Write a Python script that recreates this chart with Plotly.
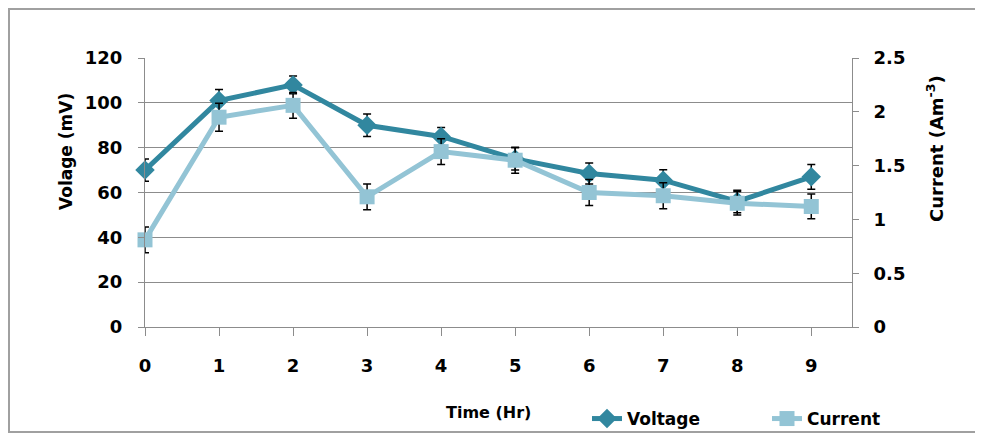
import plotly.graph_objects as go

time_hr = [0, 1, 2, 3, 4, 5, 6, 7, 8, 9]
voltage = [70, 101, 108, 90, 85, 75, 68.5, 65.5, 56, 67]
voltage_err = [5, 5, 4, 5, 4, 5, 4.7, 4.7, 5, 5.5]
current = [0.81, 1.95, 2.06, 1.21, 1.63, 1.55, 1.25, 1.22, 1.15, 1.12]
current_err = [0.12, 0.13, 0.12, 0.12, 0.12, 0.12, 0.12, 0.12, 0.11, 0.115]
left_ticks = [0, 20, 40, 60, 80, 100, 120]
right_ticks = [0, 0.5, 1, 1.5, 2, 2.5]
right_labels = ["0", "0.5", "1", "1.5", "2", "2.5"]

C_V = "#31879F"
C_I = "#93C4D5"
GRID = "#8C8C8C"
FONT = "DejaVu Sans"
OFF = 8  # page body margin
W, H = 983 - OFF, 437 - OFF
# plot area in page pixels: x 145..852, y 58..327
L, T = 145 - OFF, 58 - OFF
R = W - (852 - OFF)
B = H - (327 - OFF)
pw, ph = W - L - R, H - T - B

fig = go.Figure()
fig.add_trace(go.Scatter(
    x=time_hr, y=voltage, name="Voltage", mode="lines+markers",
    line=dict(color=C_V, width=5),
    marker=dict(symbol="diamond", size=15, color=C_V),
    error_y=dict(type="data", array=voltage_err, color="black", thickness=1.5, width=4),
    cliponaxis=False,
))
fig.add_trace(go.Scatter(
    x=time_hr, y=current, name="Current", mode="lines+markers", yaxis="y2",
    line=dict(color=C_I, width=5),
    marker=dict(symbol="square", size=15, color=C_I),
    error_y=dict(type="data", array=current_err, color="black", thickness=1.5, width=4),
    cliponaxis=False,
))

def px_x(p):
    # page pixel -> paper x
    return (p - OFF - L) / pw

def px_y(p):
    # page pixel -> paper y
    return (H - B - (p - OFF)) / ph

tickfont = dict(family=FONT, size=18, color="black", weight="bold")
fig.update_layout(
    width=W, height=H,
    margin=dict(l=L, r=R, t=T, b=B, autoexpand=False),
    paper_bgcolor="white", plot_bgcolor="white",
    font=dict(family=FONT, color="black"),
    xaxis=dict(
        range=[0, 9.55], tickvals=time_hr, ticktext=[str(t) for t in time_hr],
        showgrid=False, zeroline=False, showline=True, linecolor=GRID, linewidth=1,
        ticks="outside", ticklen=8, tickcolor=GRID, tickfont=tickfont, ticklabelstandoff=14,
    ),
    yaxis=dict(
        range=[0, 120], tickvals=left_ticks, showgrid=True, gridcolor=GRID, gridwidth=1,
        zeroline=False, showline=True, linecolor=GRID, linewidth=1,
        ticks="outside", ticklen=6, tickcolor=GRID, tickfont=tickfont, ticklabelstandoff=12,
    ),
    yaxis2=dict(
        range=[0, 2.5], tickvals=right_ticks, ticktext=right_labels, overlaying="y", side="right",
        showgrid=False, zeroline=False, showline=True, linecolor=GRID, linewidth=1,
        ticks="outside", ticklen=6, tickcolor=GRID, tickfont=tickfont, ticklabelstandoff=11,
    ),
    showlegend=True,
    legend=dict(
        orientation="h", x=px_x(587), y=px_y(419), yanchor="middle", xanchor="left",
        font=dict(family=FONT, size=17, color="black", weight="bold"),
        entrywidth=135, entrywidthmode="pixels", bgcolor="rgba(0,0,0,0)",
    ),
    annotations=[
        dict(text="<b>Time (Hr)</b>", x=px_x(488), y=px_y(412), xref="paper", yref="paper",
             xanchor="center", yanchor="middle",
             showarrow=False, font=dict(family=FONT, size=16, color="black")),
        dict(text="<b>Volage (mV)</b>", x=px_x(66), y=px_y(152), xref="paper", yref="paper",
             xanchor="center", yanchor="middle",
             showarrow=False, textangle=-90, font=dict(family=FONT, size=17, color="black")),
        dict(text="<b>Current (Am<sup>-3</sup>)</b>", x=px_x(935), y=px_y(149), xref="paper", yref="paper",
             xanchor="center", yanchor="middle",
             showarrow=False, textangle=-90, font=dict(family=FONT, size=18, color="black")),
    ],
    shapes=[
        dict(type="rect", xref="paper", yref="paper",
             x0=px_x(9), x1=px_x(1000), y0=px_y(432), y1=px_y(9),
             line=dict(color="#A0A0A0", width=2), fillcolor="rgba(0,0,0,0)", layer="below"),
    ],
)

fig.write_html("out.html")
